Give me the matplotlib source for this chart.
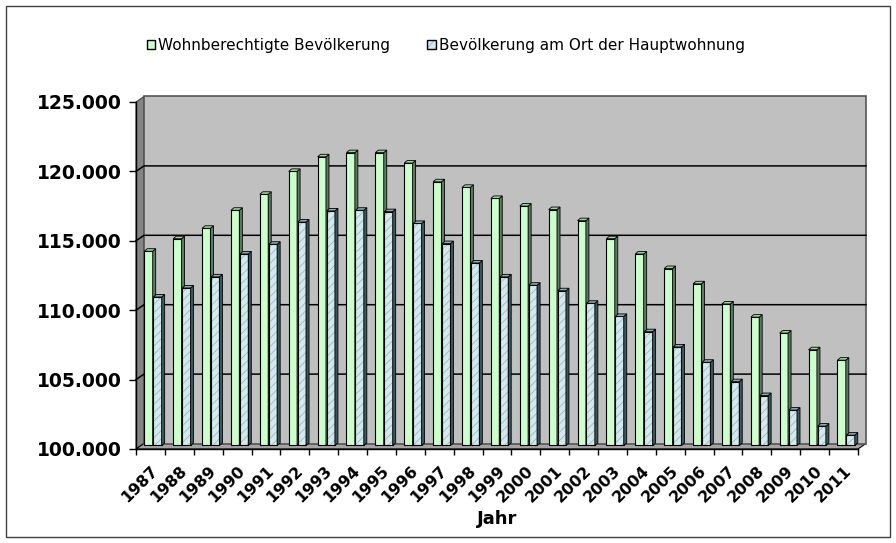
import matplotlib
matplotlib.use("Agg")
import matplotlib.pyplot as plt
from matplotlib.patches import Rectangle, Polygon, Patch
import numpy as np

years = [str(y) for y in range(1987, 2012)]
wohnberechtigt = [114000, 114900, 115650, 116950, 118100, 119750, 120800, 121100,
                  121100, 120350, 119000, 118600, 117800, 117250, 117000, 116200,
                  114900, 113800, 112750, 111650, 110200, 109250, 108100, 106900,
                  106150]
hauptwohnung = [110700, 111350, 112150, 113800, 114500, 116100, 116900, 116950,
                116850, 116000, 114550, 113150, 112150, 111550, 111150, 110250,
                109300, 108200, 107100, 106000, 104600, 103600, 102550, 101400,
                100750]
labels = ["Wohnberechtigte Bevölkerung", "Bevölkerung am Ort der Hauptwohnung"]

green_face, green_side, green_top = "#ccffcc", "#5c7a62", "#a6cfa6"
blue_face, blue_side, blue_top = "#d2e9ee", "#3c565c", "#8ea8ad"
hatch_col = "#9fb6bc"

plt.rcParams['font.family'] = ['DejaVu Sans']
plt.rcParams['hatch.linewidth'] = 0.6

W, H = 896, 543
fig = plt.figure(figsize=(W / 100, H / 100), dpi=100)
ax = fig.add_axes([136 / W, 1 - 449 / H, 722 / W, 347 / H])
n = len(years)
ymin, ymax = 100000, 125000
ax.set_xlim(0, n)
ax.set_ylim(ymin, ymax)

# data units per pixel, used for the fake 3d depth
ux = n / 722
uy = (ymax - ymin) / 347
wall_dx, wall_dy = 8 * ux, 5.5 * uy
bar_dx, bar_dy = 5 * ux, 3.5 * uy
dep_dx, dep_dy = 3 * ux, 2.5 * uy
bw = 0.29

# walls
ax.add_patch(Polygon([(0, ymin), (0, ymax), (wall_dx, ymax + wall_dy), (wall_dx, ymin + wall_dy)],
                     fc="#858585", ec="#404040", lw=0.8, clip_on=False, zorder=0.5))
ax.add_patch(Polygon([(0, ymin), (n, ymin), (n + wall_dx, ymin + wall_dy), (wall_dx, ymin + wall_dy)],
                     fc="#a4a4a4", ec="black", lw=0.8, clip_on=False, zorder=0.5))
ax.add_patch(Rectangle((wall_dx, ymin + wall_dy), n, ymax - ymin,
                       fc="#c0c0c0", ec="#555555", lw=1.2, clip_on=False, zorder=0.5))
for v in range(105000, 125000, 5000):
    ax.plot([0, wall_dx, n + wall_dx], [v, v + wall_dy, v + wall_dy],
            color="black", lw=1.1, clip_on=False, zorder=0.6)

x = np.arange(n)


def bars3d(vals, off, face, side, top, hatch=None):
    vals = np.array(vals)
    x0 = x + off + bar_dx
    base = ymin + bar_dy
    if hatch:
        ax.bar(x0, vals - ymin, bw, bottom=base, align="edge", color=face,
               edgecolor=hatch_col, hatch=hatch, lw=0, zorder=2, clip_on=False)
        ax.bar(x0, vals - ymin, bw, bottom=base, align="edge", fill=False,
               edgecolor="black", lw=0.8, zorder=2, clip_on=False)
    else:
        ax.bar(x0, vals - ymin, bw, bottom=base, align="edge", color=face,
               edgecolor="black", lw=0.8, zorder=2, clip_on=False)
    for xi, v in zip(x0, vals):
        x1 = xi + bw
        yt = v + bar_dy
        ax.add_patch(Polygon([(x1, base), (x1, yt), (x1 + dep_dx, yt + dep_dy), (x1 + dep_dx, base + dep_dy)],
                             fc=side, ec="black", lw=0.6, zorder=2, clip_on=False))
        ax.add_patch(Polygon([(xi, yt), (x1, yt), (x1 + dep_dx, yt + dep_dy), (xi + dep_dx, yt + dep_dy)],
                             fc=top, ec="black", lw=0.6, zorder=2, clip_on=False))


bars3d(wohnberechtigt, 0.115, green_face, green_side, green_top)
bars3d(hauptwohnung, 0.425, blue_face, blue_side, blue_top, hatch="////")

# axes, ticks
for s in ["top", "right"]:
    ax.spines[s].set_visible(False)
for s in ["left", "bottom"]:
    ax.spines[s].set_color("black")
    ax.spines[s].set_linewidth(1)

yt = list(range(100000, 125001, 5000))
ax.set_yticks(yt, labels=[f"{v:,}".replace(",", ".") for v in yt])
ax.tick_params(axis="y", length=5, width=1, pad=5.5, labelsize=13.5, colors="black")
for t in ax.get_yticklabels():
    t.set_fontweight("bold")

ax.set_xticks(np.arange(n + 1), labels=[""] * (n + 1))
ax.set_xticks(x + 0.5, labels=years, minor=True)
ax.tick_params(axis="x", which="major", length=4.5, width=1)
ax.tick_params(axis="x", which="minor", length=0, pad=10, labelsize=11.5)
for t in ax.get_xticklabels(minor=True):
    t.set_rotation(45)
    t.set_ha("right")
    t.set_va("top")
    t.set_rotation_mode("anchor")
    t.set_fontweight("bold")

fig.text(497 / W, 1 - 519 / H, "Jahr", ha="center", va="center", fontsize=13, fontweight="bold")

handles = [Patch(fc=green_face, ec="black", lw=1),
           (Patch(fc=blue_face, ec=hatch_col, hatch="////", lw=0), Patch(fill=False, ec="black", lw=1))]
fig.legend(handles, labels, loc="upper left", bbox_to_anchor=(147 / W, 1 - 38 / H), ncol=2,
           frameon=False, fontsize=11, handlelength=0.55, handleheight=0.55,
           handletextpad=0.2, columnspacing=2.4, borderpad=0, borderaxespad=0)

fig.patches.append(Rectangle((6 / W, 6 / H), 884 / W, 531 / H, transform=fig.transFigure,
                             fill=False, ec="#404040", lw=1))

fig.savefig("out.png", dpi=100)
